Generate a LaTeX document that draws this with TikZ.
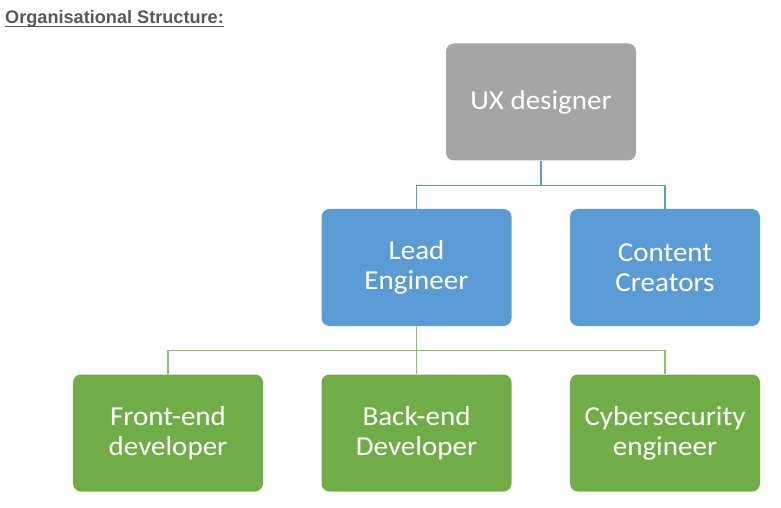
\documentclass[tikz,border=0pt]{standalone}
\usepackage{fontspec}
\setmainfont{Carlito}
\newfontfamily\boxfont[FakeStretch=1.06]{Carlito}
\newfontfamily\titlefont{Liberation Sans}
\usetikzlibrary{positioning}
\definecolor{uxgray}{HTML}{A5A5A5}
\definecolor{leadblue}{HTML}{5B9BD5}
\definecolor{devgreen}{HTML}{70AD47}
\definecolor{linegreen}{HTML}{8CC168}
\definecolor{titlegray}{HTML}{595959}
\tikzset{role/.style = {rounded corners=8bp, minimum width=190bp, minimum height=117bp,
                        text=white, align=center, inner sep=0pt,
                        font=\boxfont\fontsize{27.5}{30}\selectfont},
         bluelink/.style = {draw=leadblue, line width=1.1bp},
         greenlink/.style = {draw=linegreen, line width=1.4bp}}

\begin{document}
\begin{tikzpicture}[x=1bp,y=-1bp]
    \useasboundingbox (0,0) rectangle (781,508);
    \node[anchor=base west, text=titlegray, inner sep=0pt,
          font=\titlefont\bfseries\fontsize{18.2}{20}\selectfont] (title) at (5,24)
          {Organisational Structure:};
    \draw[titlegray, line width=1.3bp] ([yshift=-2.5bp]title.base west) -- ([yshift=-2.5bp]title.base east);

    \node[role, fill=uxgray] (ux) at (541,102) {UX designer};
    \node[role, fill=leadblue] (lead) at (416.5,267.5) {Lead\\Engineer};
    \node[role, fill=leadblue] (content) at (665,267.5) {Content\\Creators};
    \node[role, fill=devgreen] (front) at (168,433) {Front-end\\developer};
    \node[role, fill=devgreen] (back) at (416.5,433) {Back-end\\Developer};
    \node[role, fill=devgreen] (cyber) at (665,433) {Cybersecurity\\engineer};

    % links
    \coordinate (uxjoin) at ([yshift=-25bp]ux.south);
    \draw[bluelink] (ux.south) -- (uxjoin) -| (lead.north);
    \draw[bluelink] (uxjoin) -| (content.north);

    \coordinate (leadjoin) at ([yshift=-24bp]lead.south);
    \draw[greenlink] (lead.south) -- (back.north);
    \draw[greenlink] (leadjoin) -| (front.north);
    \draw[greenlink] (leadjoin) -| (cyber.north);
\end{tikzpicture}
\end{document}
